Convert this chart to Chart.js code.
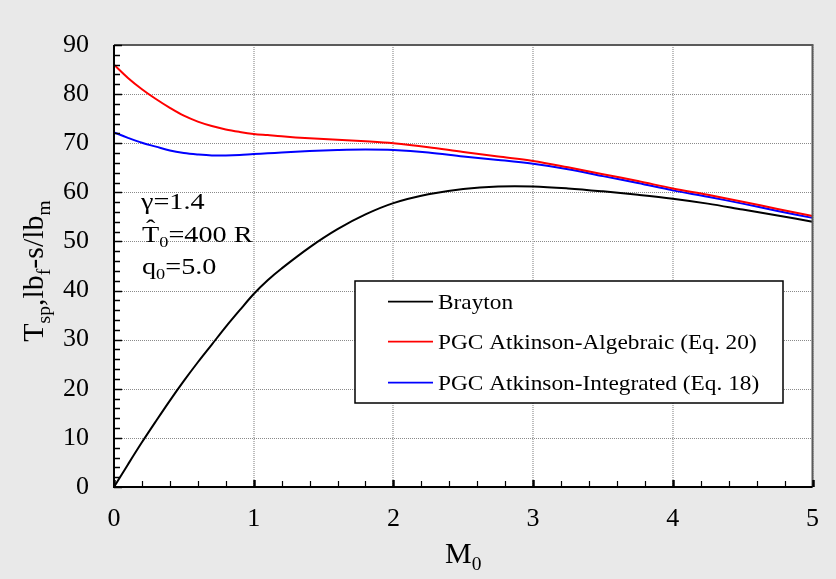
<!DOCTYPE html>
<html>
<head>
<meta charset="utf-8">
<script src="https://cdn.jsdelivr.net/npm/chart.js@4.4.1/dist/chart.umd.min.js"></script>
<style>
  html, body { margin: 0; padding: 0; background: #e9e9e9; }
  #wrap { width: 836px; height: 579px; }
</style>
</head>
<body>
<div id="wrap"><canvas id="c" width="836" height="579"></canvas></div>
<script>
// ---- Data ----
const machNumbers = [0, 0.1, 0.2, 0.3, 0.4, 0.5, 0.6, 0.7, 0.8, 0.9, 1.0, 1.1, 1.2, 1.4, 1.6, 1.8, 2.0, 2.25, 2.5, 2.75, 3.0, 3.25, 3.5, 3.75, 4.0, 4.25, 4.5, 4.75, 5.0];
const braytonTsp  = [0, 4.6, 9.1, 13.4, 17.6, 21.6, 25.4, 29.0, 32.6, 36.0, 39.3, 42.1, 44.5, 48.8, 52.5, 55.5, 57.8, 59.6, 60.7, 61.2, 61.2, 60.8, 60.2, 59.5, 58.7, 57.7, 56.5, 55.3, 54.0];
const algebraicTsp = [86.0, 83.3, 81.0, 79.0, 77.2, 75.6, 74.4, 73.5, 72.8, 72.3, 71.9, 71.65, 71.4, 71.0, 70.7, 70.4, 70.0, 69.2, 68.2, 67.3, 66.4, 65.1, 63.7, 62.3, 60.8, 59.5, 58.1, 56.6, 55.2];
const integratedTsp = [72.2, 71.1, 70.1, 69.3, 68.5, 68.0, 67.7, 67.5, 67.5, 67.6, 67.8, 67.95, 68.1, 68.4, 68.6, 68.7, 68.6, 68.1, 67.3, 66.6, 65.8, 64.7, 63.3, 61.9, 60.4, 59.1, 57.7, 56.2, 54.8];
const seriesLabels = ["Brayton", "PGC Atkinson-Algebraic (Eq. 20)", "PGC Atkinson-Integrated (Eq. 18)"];
const seriesColors = ["#000000", "#ff0000", "#0000ff"];
const xTickValues = [0, 1, 2, 3, 4, 5];
const yTickValues = [0, 10, 20, 30, 40, 50, 60, 70, 80, 90];

const FONT = "'Liberation Serif', 'Times New Roman', serif";

function toPoints(xs, ys) { return xs.map((x, i) => ({ x: x, y: ys[i] })); }

function drawStretched(ctx, s, x, y, size, sx, align) {
  ctx.save();
  ctx.font = size + "px " + FONT;
  ctx.textBaseline = "alphabetic";
  const w = ctx.measureText(s).width * sx;
  let x0 = x;
  if (align === "center") x0 = x - w / 2;
  else if (align === "right") x0 = x - w;
  ctx.translate(x0, y);
  ctx.scale(sx, 1);
  ctx.textAlign = "left";
  ctx.fillText(s, 0, 0);
  ctx.restore();
  return w;
}

function richWidth(ctx, parts, size, sx) {
  let w = 0;
  for (const p of parts) {
    const fs = p.sub ? size * 0.65 : size;
    ctx.font = fs + "px " + FONT;
    w += ctx.measureText(p.t).width * sx;
  }
  return w;
}
function drawRich(ctx, parts, x, y, size, sx) {
  let cx = x;
  for (const p of parts) {
    const fs = p.sub ? size * 0.65 : size;
    const dy = p.sub ? size * 0.22 : 0;
    cx += drawStretched(ctx, p.t, cx, y + dy, fs, sx, "left");
  }
  return cx - x;
}

const decorPlugin = {
  id: "decor",
  beforeDraw(chart) {
    const ctx = chart.ctx, a = chart.chartArea;
    ctx.save();
    ctx.fillStyle = "#e9e9e9";
    ctx.fillRect(0, 0, chart.width, chart.height);
    ctx.fillStyle = "#ffffff";
    ctx.fillRect(a.left, a.top, a.right - a.left, a.bottom - a.top);
    ctx.restore();
  },
  beforeDatasetsDraw(chart) {
    const ctx = chart.ctx, a = chart.chartArea;
    const xs = chart.scales.x, ys = chart.scales.y;
    ctx.save();
    ctx.lineWidth = 1;
    ctx.setLineDash([1, 1]);
    ctx.strokeStyle = "#8a8a8a";
    for (const v of yTickValues) {
      const py = Math.round(ys.getPixelForValue(v)) + 0.5;
      ctx.beginPath(); ctx.moveTo(a.left, py); ctx.lineTo(a.right, py); ctx.stroke();
    }
    ctx.strokeStyle = "#bdbdbd";
    ctx.lineWidth = 2;
    for (const v of xTickValues) {
      const px = Math.round(xs.getPixelForValue(v));
      ctx.beginPath(); ctx.moveTo(px, a.top); ctx.lineTo(px, a.bottom); ctx.stroke();
    }
    ctx.restore();
  },
  afterDatasetsDraw(chart) {
    const ctx = chart.ctx, a = chart.chartArea;
    const xs = chart.scales.x, ys = chart.scales.y;
    ctx.save();
    ctx.setLineDash([]);
    ctx.lineWidth = 2;
    ctx.strokeStyle = "#5a5a5a";
    ctx.beginPath(); ctx.moveTo(a.left, a.top); ctx.lineTo(a.right, a.top); ctx.lineTo(a.right, a.bottom); ctx.stroke();
    ctx.strokeStyle = "#000000";
    ctx.beginPath(); ctx.moveTo(a.left, a.top); ctx.lineTo(a.left, a.bottom); ctx.lineTo(a.right, a.bottom); ctx.stroke();
    ctx.lineWidth = 1.5;
    for (let v = 0; v <= 90.001; v += 2) {
      const py = Math.round(ys.getPixelForValue(v)) + 0.5;
      const major = Math.abs(v % 10) < 0.01;
      ctx.beginPath(); ctx.moveTo(a.left, py); ctx.lineTo(a.left + (major ? 8 : 6), py); ctx.stroke();
    }
    for (let i = 0; i <= 25; i++) {
      const v = i * 0.2;
      const px = Math.round(xs.getPixelForValue(v)) + 0.5;
      const major = i % 5 === 0;
      ctx.lineWidth = major ? 2.5 : 1.2;
      ctx.beginPath(); ctx.moveTo(px, a.bottom); ctx.lineTo(px, a.bottom - (major ? 7 : 6)); ctx.stroke();
    }

    ctx.fillStyle = "#000";
    const aSize = 23.5, aSx = 1.2;
    drawStretched(ctx, "γ=1.4", 141, 209, aSize, aSx, "left");
    let w = drawStretched(ctx, "T", 142, 241.5, aSize, aSx, "left");
    drawStretched(ctx, "ˆ", 142 + w / 2, 236, aSize, aSx, "center");
    drawRich(ctx, [{ t: "0", sub: true }, { t: "=400 R" }], 142 + w, 241.5, aSize, aSx);
    drawRich(ctx, [{ t: "q" }, { t: "0", sub: true }, { t: "=5.0" }], 142, 274, aSize, aSx);

    const L = { left: 355, top: 281, right: 783, bottom: 403 };
    ctx.fillStyle = "#ffffff";
    ctx.fillRect(L.left, L.top, L.right - L.left, L.bottom - L.top);
    ctx.strokeStyle = "#000";
    ctx.lineWidth = 1.5;
    ctx.strokeRect(L.left, L.top, L.right - L.left, L.bottom - L.top);
    const rows = [301.7, 341.7, 382.7];
    chart.data.datasets.forEach((ds, i) => {
      ctx.strokeStyle = ds.borderColor;
      ctx.lineWidth = 1.8;
      ctx.beginPath(); ctx.moveTo(388, rows[i]); ctx.lineTo(433, rows[i]); ctx.stroke();
      ctx.fillStyle = "#000";
      drawStretched(ctx, ds.label, 438, rows[i] + 7.6, 22, 1.06, "left");
    });

    ctx.fillStyle = "#000";
    const tSize = 30, tSx = 1.0;
    const yParts = [{ t: "T" }, { t: "sp", sub: true }, { t: ",lb" }, { t: "f", sub: true }, { t: "-s/lb" }, { t: "m", sub: true }];
    const yw = richWidth(ctx, yParts, tSize, tSx);
    ctx.save();
    ctx.translate(43, 271);
    ctx.rotate(-Math.PI / 2);
    drawRich(ctx, yParts, -yw / 2, 0, tSize, tSx);
    ctx.restore();
    const xParts = [{ t: "M" }, { t: "0", sub: true }];
    const xw = richWidth(ctx, xParts, tSize, tSx);
    drawRich(ctx, xParts, (a.left + a.right) / 2 - xw / 2, 563, tSize, tSx);
    ctx.restore();
  }
};

const datasets = [braytonTsp, algebraicTsp, integratedTsp].map((ys, i) => ({
  label: seriesLabels[i],
  data: toPoints(machNumbers, ys),
  borderColor: seriesColors[i],
  backgroundColor: seriesColors[i],
  borderWidth: 2,
  pointRadius: 0,
  tension: 0.35,
  fill: false
}));

new Chart(document.getElementById("c"), {
  type: "line",
  data: { datasets: datasets },
  options: {
    responsive: false,
    animation: false,
    devicePixelRatio: 1,
    layout: { padding: { top: 45, right: 22, left: 0, bottom: 0 } },
    plugins: { legend: { display: false }, tooltip: { enabled: false } },
    scales: {
      x: {
        type: "linear", min: 0, max: 5,
        afterFit(s) { s.height = 92; },
        afterBuildTicks(s) { s.ticks = xTickValues.map(v => ({ value: v })); },
        grid: { display: false, drawTicks: false },
        border: { display: false },
        ticks: { color: "#000", padding: 17, font: { family: FONT, size: 26 }, maxRotation: 0 }
      },
      y: {
        type: "linear", min: 0, max: 90,
        afterFit(s) { s.width = 114; },
        afterBuildTicks(s) { s.ticks = yTickValues.map(v => ({ value: v })); },
        grid: { display: false, drawTicks: false },
        border: { display: false },
        ticks: { color: "#000", padding: 25, font: { family: FONT, size: 26 } }
      }
    }
  },
  plugins: [decorPlugin]
});
</script>
</body>
</html>
